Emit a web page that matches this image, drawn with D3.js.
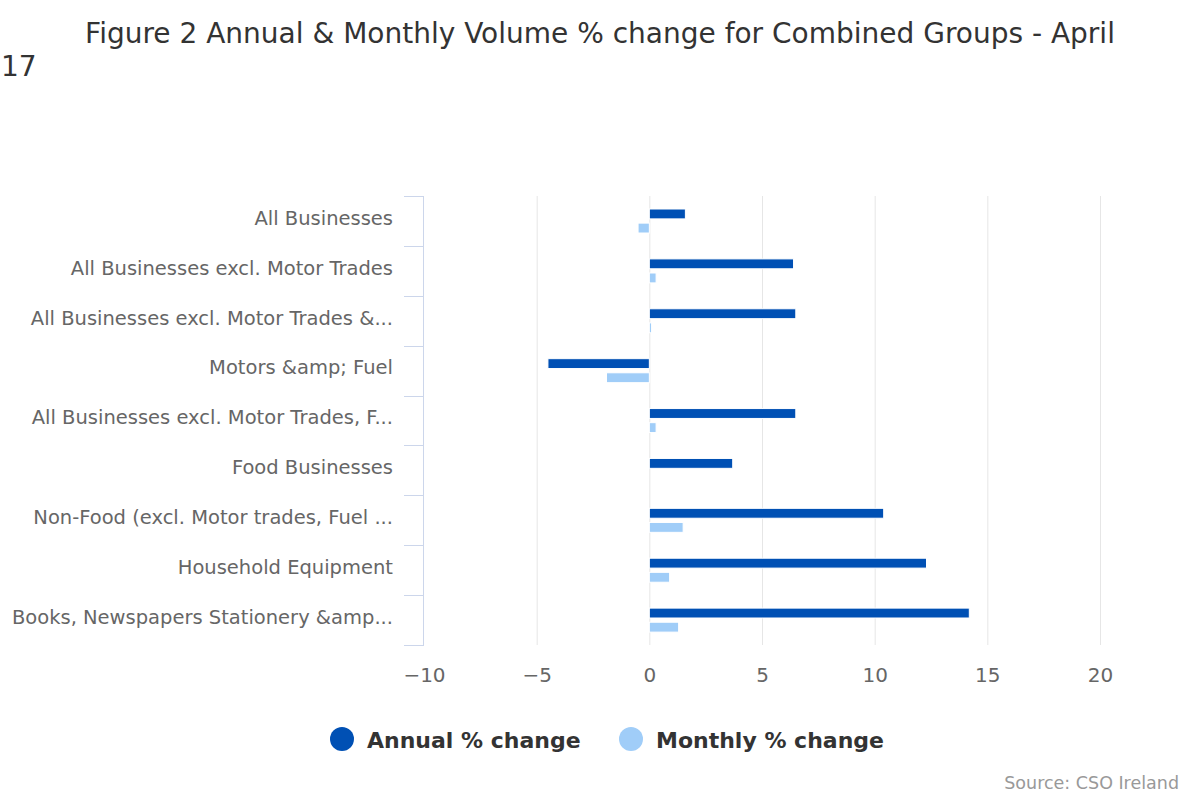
<!DOCTYPE html>
<html>
<head>
<meta charset="utf-8">
<script src="https://cdn.jsdelivr.net/npm/d3@7"></script>
<style>
  body { margin: 0; background: #fff; }
  svg { font-family: "DejaVu Sans", sans-serif; }
</style>
</head>
<body>
<svg id="chart"></svg>
<script>
const categories = [
  "All Businesses",
  "All Businesses excl. Motor Trades",
  "All Businesses excl. Motor Trades &...",
  "Motors &amp; Fuel",
  "All Businesses excl. Motor Trades, F...",
  "Food Businesses",
  "Non-Food (excl. Motor trades, Fuel ...",
  "Household Equipment",
  "Books, Newspapers Stationery &amp..."
];
const seriesNames = ["Annual % change", "Monthly % change"];
const annual = [1.6, 6.4, 6.5, -4.5, 6.5, 3.7, 10.4, 12.3, 14.2];
const monthly = [-0.5, 0.3, 0.1, -1.9, 0.3, 0, 1.5, 0.9, 1.3];
const xTicks = [-10, -5, 0, 5, 10, 15, 20];
const colors = ["#0050b4", "#a0cdf8"];

const svgWidth = 1200, svgHeight = 800;
const plot = { left: 424, right: 1100, top: 196, bottom: 645 };

const svg = d3.select("#chart")
  .attr("width", svgWidth)
  .attr("height", svgHeight);

// title (wraps oddly in the original)
svg.append("text")
  .attr("x", 600)
  .attr("y", 43)
  .attr("text-anchor", "middle")
  .attr("fill", "#333")
  .style("font-size", "28px")
  .text("Figure 2 Annual & Monthly Volume % change for Combined Groups - April");
svg.append("text")
  .attr("x", 1)
  .attr("y", 76)
  .attr("fill", "#333")
  .style("font-size", "28px")
  .text("17");

const xScale = d3.scaleLinear()
  .domain([-10, 20])
  .range([plot.left, plot.right]);

const yScale = d3.scaleBand()
  .domain(categories)
  .range([plot.top, plot.bottom]);

const inner = d3.scaleBand()
  .domain(seriesNames)
  .range([13, 37])
  .paddingInner(0.3);

// vertical gridlines
svg.append("g")
  .selectAll("line")
  .data(xTicks.filter(d => d !== -10))
  .enter()
  .append("line")
  .attr("x1", d => xScale(d) + 0.5)
  .attr("x2", d => xScale(d) + 0.5)
  .attr("y1", plot.top)
  .attr("y2", plot.bottom)
  .attr("stroke", "#e6e6e6")
  .attr("stroke-width", 1);

// x axis labels
svg.append("g")
  .attr("transform", `translate(0,${plot.bottom + 23})`)
  .call(d3.axisBottom(xScale).tickValues(xTicks).tickSize(0).tickPadding(0))
  .call(g => g.select(".domain").remove())
  .call(g => g.selectAll("text")
    .attr("fill", "#666")
    .style("font-size", "20px")
    .style("font-family", "DejaVu Sans, sans-serif"));

// y axis line and ticks between categories
svg.append("line")
  .attr("x1", plot.left - 0.5)
  .attr("x2", plot.left - 0.5)
  .attr("y1", plot.top)
  .attr("y2", plot.bottom)
  .attr("stroke", "#ccd6eb");

const boundaries = categories.map(c => yScale(c)).concat([plot.bottom]);
svg.append("g")
  .selectAll("line")
  .data(boundaries)
  .enter()
  .append("line")
  .attr("x1", plot.left - 20)
  .attr("x2", plot.left)
  .attr("y1", d => Math.round(d) + 0.5)
  .attr("y2", d => Math.round(d) + 0.5)
  .attr("stroke", "#ccd6eb");

svg.append("g")
  .selectAll("text")
  .data(categories)
  .enter()
  .append("text")
  .attr("x", plot.left - 31)
  .attr("y", d => yScale(d) + yScale.bandwidth() / 2 - 3)
  .attr("dy", "0.35em")
  .attr("text-anchor", "end")
  .attr("fill", "#666")
  .style("font-size", "19.5px")
  .text(d => d);

// bars
const seriesData = [annual, monthly];
seriesData.forEach((vals, si) => {
  svg.append("g")
    .selectAll("rect")
    .data(vals.map((v, i) => ({ cat: categories[i], v })))
    .enter()
    .append("rect")
    .attr("x", d => xScale(Math.min(0, d.v)))
    .attr("y", d => yScale(d.cat) + inner(seriesNames[si]))
    .attr("width", d => Math.abs(xScale(d.v) - xScale(0)))
    .attr("height", inner.bandwidth())
    .attr("fill", colors[si])
    .attr("stroke", "#fff")
    .attr("stroke-width", 1);
});

// legend
const legendItems = [
  { name: seriesNames[0], color: colors[0], x: 342 },
  { name: seriesNames[1], color: colors[1], x: 631 }
];
const legend = svg.append("g");
legendItems.forEach(item => {
  legend.append("circle")
    .attr("cx", item.x)
    .attr("cy", 739)
    .attr("r", 12)
    .attr("fill", item.color);
  legend.append("text")
    .attr("x", item.x + 25)
    .attr("y", 740)
    .attr("dy", "0.35em")
    .attr("fill", "#333")
    .style("font-size", "22px")
    .style("font-weight", "bold")
    .text(item.name);
});

// credits
svg.append("text")
  .attr("x", 1179)
  .attr("y", 789)
  .attr("text-anchor", "end")
  .attr("fill", "#999")
  .style("font-size", "17.5px")
  .text("Source: CSO Ireland");
</script>
</body>
</html>
